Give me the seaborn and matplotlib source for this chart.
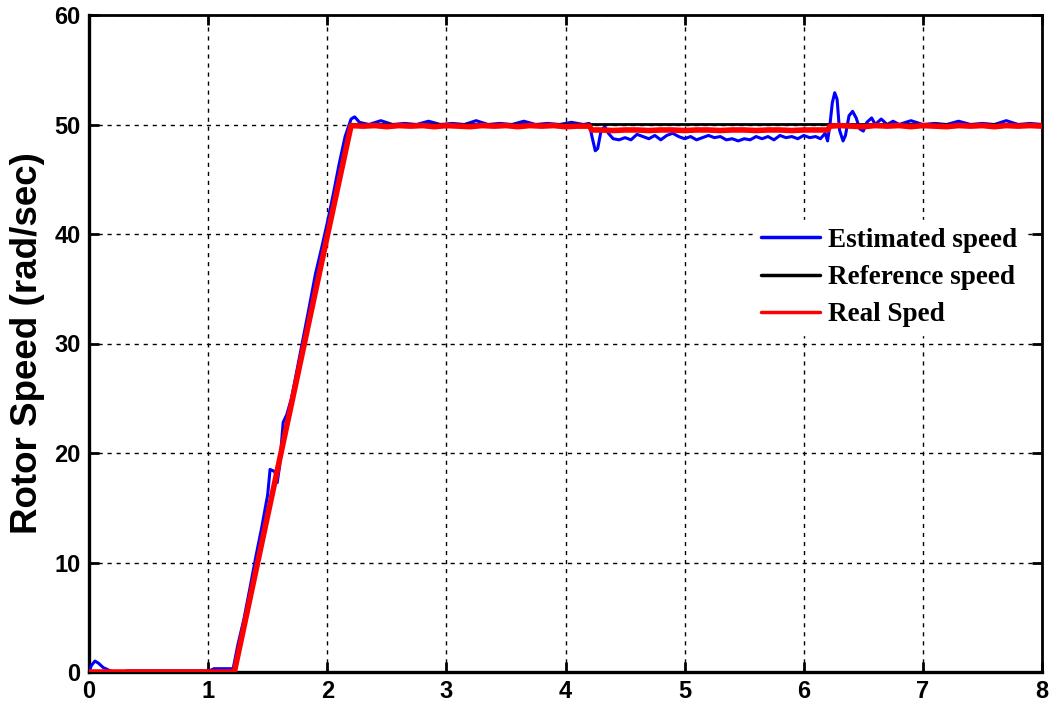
import matplotlib
matplotlib.use("Agg")
import matplotlib.pyplot as plt
from matplotlib.lines import Line2D
import seaborn as sns
import pandas as pd

# --- data -------------------------------------------------------------
# Reference speed profile (rad/sec)
ref_t = [0.0, 1.22, 2.2, 8.0]
ref_w = [0.0, 0.0, 50.0, 50.0]

# Measured (real) rotor speed
real_t = [0.0, 1.22, 1.4, 1.6, 1.8, 2.0, 2.2,
          2.3, 2.4, 2.5, 2.6, 2.7, 2.8, 2.9, 3.0, 3.1, 3.2, 3.3, 3.4, 3.5,
          3.6, 3.7, 3.8, 3.9, 4.0, 4.1, 4.2, 4.22,
          4.3, 4.4, 4.5, 4.6, 4.7, 4.8, 4.9, 5.0, 5.1, 5.2, 5.3, 5.4, 5.5,
          5.6, 5.7, 5.8, 5.9, 6.0, 6.1, 6.2, 6.22,
          6.3, 6.4, 6.5, 6.6, 6.7, 6.8, 6.9, 7.0, 7.1, 7.2, 7.3, 7.4, 7.5,
          7.6, 7.7, 7.8, 7.9, 8.0]
real_w = [0.0, 0.0, 9.2, 19.4, 29.6, 39.8, 49.9,
          49.85, 49.9, 49.8, 49.9, 49.85, 49.9, 49.8, 49.9, 49.85, 49.8, 49.9, 49.85, 49.9,
          49.8, 49.9, 49.85, 49.9, 49.8, 49.85, 49.85, 49.5,
          49.5, 49.45, 49.5, 49.5, 49.45, 49.5, 49.5, 49.45, 49.5, 49.5, 49.45, 49.5, 49.5,
          49.45, 49.5, 49.5, 49.45, 49.5, 49.5, 49.5, 49.85,
          49.9, 49.85, 49.8, 49.9, 49.85, 49.9, 49.8, 49.9, 49.85, 49.8, 49.9, 49.85, 49.9,
          49.8, 49.9, 49.85, 49.9, 49.85]

# Observer-estimated rotor speed
est_t = [0.0, 0.02, 0.05, 0.08, 0.12, 0.16, 0.2, 0.3, 0.32, 1.0, 1.03, 1.05, 1.21,
         1.25, 1.3, 1.35, 1.4, 1.45, 1.5, 1.52, 1.56, 1.58, 1.6, 1.63, 1.66, 1.7,
         1.75, 1.8, 1.85, 1.9, 1.95, 2.0, 2.05, 2.1, 2.15, 2.2, 2.23, 2.27,
         2.35, 2.45, 2.55, 2.65, 2.75, 2.85, 2.95, 3.05, 3.15, 3.25, 3.35, 3.45,
         3.55, 3.65, 3.75, 3.85, 3.95, 4.05, 4.15, 4.2,
         4.22, 4.25, 4.27, 4.3, 4.33, 4.36, 4.4, 4.45, 4.5, 4.55, 4.6, 4.65,
         4.7, 4.75, 4.8, 4.85, 4.9, 4.95, 5.0, 5.05, 5.1, 5.15, 5.2, 5.25,
         5.3, 5.35, 5.4, 5.45, 5.5, 5.55, 5.6, 5.65, 5.7, 5.75, 5.8, 5.85,
         5.9, 5.95, 6.0, 6.05, 6.1, 6.14, 6.18, 6.2,
         6.22, 6.24, 6.26, 6.28, 6.3, 6.33, 6.35, 6.38, 6.41, 6.44, 6.47, 6.5,
         6.53, 6.57, 6.6, 6.65, 6.7, 6.75, 6.8, 6.9, 7.0, 7.1, 7.2, 7.3, 7.4,
         7.5, 7.6, 7.7, 7.8, 7.9, 8.0]
est_w = [0.0, 0.6, 1.0, 0.8, 0.4, 0.2, 0.0, 0.0, 0.1, 0.1, 0.2, 0.3, 0.3,
         2.5, 4.8, 7.6, 10.5, 13.2, 16.2, 18.5, 18.3, 17.3, 18.8, 22.8, 23.5, 25.0,
         27.8, 30.6, 33.4, 36.3, 38.6, 41.0, 43.6, 46.4, 48.9, 50.5, 50.7, 50.2,
         50.0, 50.35, 50.0, 50.1, 50.0, 50.3, 50.0, 50.1, 50.0, 50.35, 50.0, 50.1,
         50.0, 50.3, 50.0, 50.1, 50.0, 50.2, 50.0, 50.1,
         49.0, 47.6, 47.8, 49.5, 49.8, 49.2, 48.7, 48.6, 48.8, 48.6, 49.1, 48.9,
         48.7, 49.0, 48.6, 49.0, 49.2, 48.9, 48.7, 48.9, 48.6, 48.8, 49.0, 48.8,
         48.9, 48.6, 48.7, 48.5, 48.7, 48.6, 48.9, 48.7, 48.9, 48.6, 49.0, 48.8,
         48.9, 48.7, 49.0, 48.8, 48.9, 48.7, 49.2, 48.5,
         50.0, 52.0, 52.9, 52.3, 49.5, 48.5, 49.0, 50.8, 51.2, 50.6, 49.6, 49.4,
         50.2, 50.6, 50.0, 50.5, 50.0, 50.3, 50.0, 50.35, 50.0, 50.1, 50.0, 50.3, 50.0,
         50.1, 50.0, 50.35, 50.0, 50.1, 50.0]

x_ticks = [0, 1, 2, 3, 4, 5, 6, 7, 8]
y_ticks = [0, 10, 20, 30, 40, 50, 60]

labels = ["Estimated speed", "Reference speed", "Real Sped"]
colors = ["#0000ff", "#000000", "#ff0000"]

# --- figure -----------------------------------------------------------
sns.set_style("white")
plt.rcParams["font.family"] = ["Liberation Sans", "DejaVu Sans"]
plt.rcParams["text.color"] = "black"
plt.rcParams["axes.labelcolor"] = "black"
plt.rcParams["xtick.color"] = "black"
plt.rcParams["ytick.color"] = "black"

fig = plt.figure(figsize=(10.62, 7.08), dpi=100)
ax = fig.add_axes([89 / 1062, 1 - 672 / 708, (1042 - 89) / 1062, (672 - 15) / 708])

est_df = pd.DataFrame({"t": est_t, "w": est_w})
ref_df = pd.DataFrame({"t": ref_t, "w": ref_w})
real_df = pd.DataFrame({"t": real_t, "w": real_w})

sns.lineplot(data=est_df, x="t", y="w", ax=ax, color=colors[0], lw=2.2,
             sort=False, estimator=None, zorder=3)
sns.lineplot(data=ref_df, x="t", y="w", ax=ax, color=colors[1], lw=2.0,
             sort=False, estimator=None, zorder=4)
sns.lineplot(data=real_df, x="t", y="w", ax=ax, color=colors[2], lw=4.0,
             sort=False, estimator=None, zorder=5)

ax.set_xlim(0, 8)
ax.set_ylim(0, 60)
ax.set_xticks(x_ticks)
ax.set_yticks(y_ticks)
ax.set_xticklabels([str(v) for v in x_ticks])
ax.set_yticklabels([str(v) for v in y_ticks])
for lab in ax.get_xticklabels() + ax.get_yticklabels():
    lab.set_fontweight("bold")
    lab.set_fontsize(17)
    lab.set_color("black")

ax.tick_params(direction="in", length=7, width=2, top=True, right=True,
               bottom=True, left=True, pad=6, colors="black")
ax.set_xlabel("")
ax.set_ylabel("Rotor Speed (rad/sec)", fontsize=26.5, fontweight="bold",
              labelpad=7, color="black")

ax.grid(True, color="black", linestyle=(0, (3, 3.5)), linewidth=1.0)
ax.set_axisbelow(True)

for side in ["left", "bottom"]:
    ax.spines[side].set_linewidth(2.4)
for side in ["top", "right"]:
    ax.spines[side].set_linewidth(2.0)
for sp in ax.spines.values():
    sp.set_color("black")
    sp.set_visible(True)

handles = [Line2D([0], [0], color=c, lw=2.5) for c in colors]
leg = ax.legend(handles, labels, loc="upper right",
                bbox_to_anchor=(0.997, 0.709), frameon=True, fancybox=False,
                handlelength=2.2, handletextpad=0.3, labelspacing=0.45,
                borderpad=0.3,
                prop={"family": "Liberation Serif", "weight": "bold", "size": 19.5})
leg.get_frame().set_edgecolor("white")
leg.get_frame().set_facecolor("white")
leg.get_frame().set_alpha(1.0)
leg.set_zorder(10)
for txt in leg.get_texts():
    txt.set_color("black")

fig.savefig("out.png", dpi=100)
